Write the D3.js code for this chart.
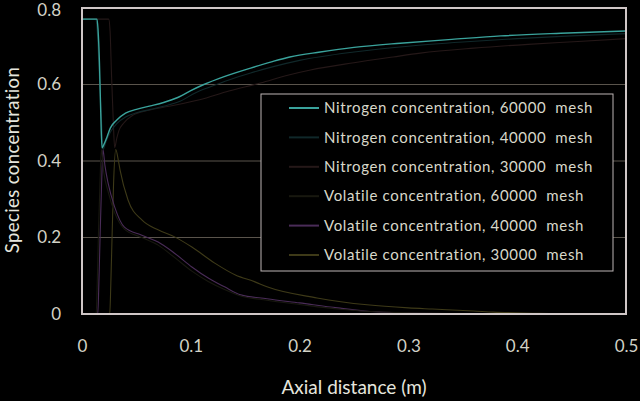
<!DOCTYPE html>
<html>
<head>
<meta charset="utf-8">
<script src="https://cdn.jsdelivr.net/npm/d3@7"></script>
<style>
	body {margin:0; background:#000;}
	text {font-family: Lato, "Open Sans", sans-serif;}
</style>
</head>
<body>
<div id="chart-box"></div>
<script>
// series names (legend order)
const seriesNames = [
	"Nitrogen concentration, 60000  mesh",
	"Nitrogen concentration, 40000  mesh",
	"Nitrogen concentration, 30000  mesh",
	"Volatile concentration, 60000  mesh",
	"Volatile concentration, 40000  mesh",
	"Volatile concentration, 30000  mesh"
];
const seriesColors = ["#3aa39c", "#10282a", "#251818", "#18180f", "#4a2c58", "#3e3a18"];

// axial distance (m) and concentration
const n60X = [0, 0.0138, 0.0147, 0.0160, 0.0172, 0.0184, 0.020, 0.023, 0.026, 0.032, 0.040, 0.050, 0.063, 0.075, 0.088, 0.100, 0.112, 0.130, 0.155, 0.175, 0.191, 0.219, 0.25, 0.2925, 0.34, 0.385, 0.44, 0.5];
const n60Y = [0.771, 0.771, 0.745, 0.66, 0.53, 0.434, 0.442, 0.463, 0.486, 0.507, 0.525, 0.535, 0.544, 0.553, 0.566, 0.584, 0.600, 0.620, 0.643, 0.66, 0.672, 0.685, 0.697, 0.708, 0.718, 0.727, 0.734, 0.740];

const n40X = [0, 0.0125, 0.0140, 0.0160, 0.0180, 0.0195, 0.022, 0.026, 0.032, 0.040, 0.050, 0.063, 0.075, 0.090, 0.104, 0.118, 0.135, 0.155, 0.175, 0.2, 0.25, 0.3, 0.35, 0.4, 0.45, 0.5];
const n40Y = [0.771, 0.771, 0.74, 0.62, 0.50, 0.43, 0.45, 0.475, 0.498, 0.515, 0.526, 0.535, 0.543, 0.556, 0.578, 0.594, 0.612, 0.63, 0.646, 0.663, 0.685, 0.7, 0.711, 0.72, 0.727, 0.733];

const n30X = [0, 0.0245, 0.0258, 0.0272, 0.0288, 0.030, 0.032, 0.034, 0.038, 0.047, 0.06, 0.08, 0.108, 0.135, 0.164, 0.19, 0.21, 0.25, 0.286, 0.311, 0.36, 0.41, 0.46, 0.5];
const n30Y = [0.771, 0.771, 0.74, 0.62, 0.50, 0.435, 0.46, 0.48, 0.498, 0.52, 0.532, 0.543, 0.56, 0.583, 0.604, 0.625, 0.638, 0.657, 0.672, 0.682, 0.695, 0.705, 0.713, 0.72];

const v60X = [0, 0.013, 0.014, 0.0152, 0.0165, 0.0178, 0.02, 0.024, 0.030, 0.039, 0.055, 0.07, 0.085, 0.101, 0.116, 0.131, 0.146, 0.17, 0.2, 0.235, 0.26, 0.3, 0.35, 0.4, 0.5];
const v60Y = [0, 0, 0.08, 0.22, 0.34, 0.43, 0.37, 0.32, 0.265, 0.222, 0.2, 0.18, 0.148, 0.112, 0.085, 0.064, 0.047, 0.036, 0.025, 0.013, 0.007, 0.003, 0.001, 0, 0];

const v40X = [0, 0.0145, 0.0155, 0.0168, 0.018, 0.0193, 0.021, 0.024, 0.030, 0.039, 0.055, 0.070, 0.085, 0.101, 0.116, 0.131, 0.146, 0.17, 0.2, 0.235, 0.26, 0.285, 0.31, 0.35, 0.4, 0.45, 0.5];
const v40Y = [0, 0, 0.08, 0.22, 0.34, 0.43, 0.39, 0.342, 0.28, 0.227, 0.206, 0.188, 0.159, 0.123, 0.094, 0.071, 0.05, 0.04, 0.029, 0.016, 0.008, 0.004, 0.002, 0.001, 0, 0, 0];

const v30X = [0, 0.0255, 0.0265, 0.0278, 0.029, 0.031, 0.0335, 0.035, 0.0423, 0.055, 0.0699, 0.0856, 0.101, 0.122, 0.141, 0.159, 0.170, 0.216, 0.262, 0.3, 0.322, 0.36, 0.378, 0.42, 0.45, 0.5];
const v30Y = [0, 0, 0.08, 0.22, 0.34, 0.43, 0.40, 0.376, 0.298, 0.246, 0.220, 0.201, 0.175, 0.133, 0.102, 0.084, 0.071, 0.042, 0.024, 0.016, 0.013, 0.008, 0.005, 0.002, 0, 0];

const xTicks = [0, 0.1, 0.2, 0.3, 0.4, 0.5];
const yTicks = [0, 0.2, 0.4, 0.6, 0.8];
const gridTicks = [0.2, 0.4, 0.6];

const chart =
{
	draw: function ()
	{
		let width = 640, height = 401;
		let padd = {left: 82, right: 14, top: 8, bottom: 87};
		const series = [[n60X, n60Y], [n40X, n40Y], [n30X, n30Y], [v60X, v60Y], [v40X, v40Y], [v30X, v30Y]]
		.map((s, i) => ({name: seriesNames[i], color: seriesColors[i], points: s[0].map((x, j) => [x, s[1][j]])}));

		const svg = d3.select("#chart-box")
		.append("svg")
		.attr("width", width)
		.attr("height", height);

		svg.append("rect")
		.attr("width", width)
		.attr("height", height)
		.attr("fill", "#000");

		const xScale = d3.scaleLinear()
		.domain([0, 0.5])
		.range([padd.left, width - padd.right]);
		const yScale = d3.scaleLinear()
		.domain([0, 0.8])
		.range([height - padd.bottom, padd.top]);

		//gridlines
		svg.append("g")
		.selectAll("line")
		.data(gridTicks)
		.enter()
		.append("line")
		.attr("x1", xScale(0))
		.attr("x2", xScale(0.5))
		.attr("y1", d => yScale(d))
		.attr("y2", d => yScale(d))
		.attr("stroke", "#5a544c")
		.attr("stroke-width", 1);

		//Y axis (labels only)
		const yAxis = d3.axisLeft(yScale)
		.tickValues(yTicks)
		.tickFormat(d => d === 0 ? "0" : d3.format(".1f")(d))
		.tickSize(0)
		.tickPadding(21);
		svg.append("g")
		.attr("id", "y-axis")
		.attr("transform", `translate(${padd.left},0)`)
		.call(yAxis)
		.call(g => g.select(".domain").remove())
		.selectAll("text")
		.attr("fill", "#d2d2c6")
		.attr("y", d => d === 0.8 ? 2 : 0)
		.style("font-size", "17px");

		//X axis (labels only)
		const xAxis = d3.axisBottom(xScale)
		.tickValues(xTicks)
		.tickFormat(d => d === 0 ? "0" : d3.format(".1f")(d))
		.tickSize(0)
		.tickPadding(26);
		svg.append("g")
		.attr("id", "x-axis")
		.attr("transform", `translate(0,${height - padd.bottom})`)
		.call(xAxis)
		.call(g => g.select(".domain").remove())
		.selectAll("text")
		.attr("fill", "#d2d2c6")
		.style("font-size", "17px");

		//curves
		const line = d3.line()
		.curve(d3.curveMonotoneX)
		.x(d => xScale(d[0]))
		.y(d => yScale(d[1]));
		svg.append("g")
		.selectAll("path")
		.data(series.slice().reverse())
		.enter()
		.append("path")
		.attr("d", d => line(d.points))
		.attr("fill", "none")
		.attr("stroke", d => d.color)
		.attr("stroke-width", (d, i) => i === 5 ? 1.4 : 1.1)
		.attr("stroke-linejoin", "round");

		//plot border
		svg.append("rect")
		.attr("x", xScale(0))
		.attr("y", yScale(0.8))
		.attr("width", xScale(0.5) - xScale(0))
		.attr("height", yScale(0) - yScale(0.8))
		.attr("fill", "none")
		.attr("stroke", "#cfc6c6")
		.attr("stroke-width", 2);

		//legend
		const legend = svg.append("g")
		.attr("id", "legend")
		.attr("transform", "translate(261,94)");
		legend.append("rect")
		.attr("width", 352)
		.attr("height", 177)
		.attr("fill", "#000")
		.attr("stroke", "#bdb5b5")
		.attr("stroke-width", 1);
		const rows = legend.selectAll("g")
		.data(series)
		.enter()
		.append("g")
		.attr("transform", (d, i) => `translate(0,${14 + i * 29.4})`);
		rows.append("line")
		.attr("x1", 28)
		.attr("x2", 58)
		.attr("stroke", d => d.color)
		.attr("stroke-width", 2);
		rows.append("text")
		.attr("x", 63)
		.attr("dy", "0.35em")
		.attr("fill", "#d8d8ca")
		.style("font-size", "15px")
		.style("letter-spacing", "0.65px")
		.style("white-space", "pre")
		.text(d => d.name);

		//axis titles
		svg.append("text")
		.attr("x", 354)
		.attr("y", 394)
		.attr("text-anchor", "middle")
		.attr("fill", "#e6e6de")
		.style("font-size", "19px")
		.text("Axial distance (m)");
		svg.append("text")
		.attr("transform", "translate(19,160) rotate(-90)")
		.attr("text-anchor", "middle")
		.attr("fill", "#e6e6de")
		.style("font-size", "18.5px")
		.style("letter-spacing", "0.4px")
		.text("Species concentration");
	}
};

document.addEventListener("DOMContentLoaded", function(event)
{
	chart.draw();
});
</script>
</body>
</html>
